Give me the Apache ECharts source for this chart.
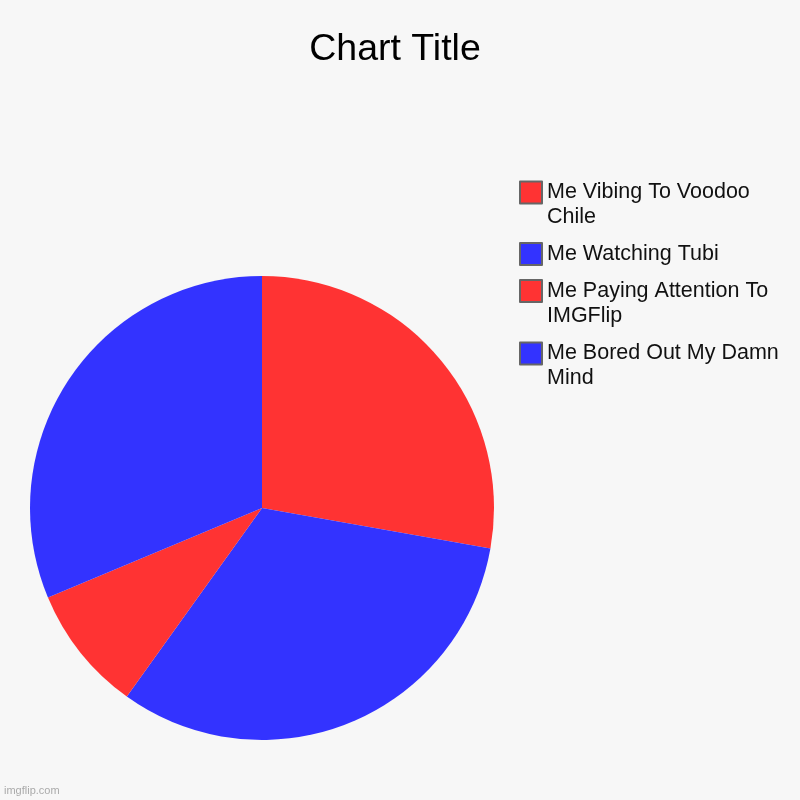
<!DOCTYPE html>
<html>
<head>
<meta charset="utf-8">
<script src="https://cdn.jsdelivr.net/npm/echarts@6/dist/echarts.min.js"></script>
<style>
    html, body { margin: 0; padding: 0; background: #f7f7f7; }
    #chart { width: 800px; height: 800px; }
</style>
</head>
<body>
<div id="chart"></div>
<script>
// 数据
const categories = ['Me Vibing To Voodoo Chile', 'Me Watching Tubi', 'Me Paying Attention To IMGFlip', 'Me Bored Out My Damn Mind'];
const values = [27.8, 32.1, 8.8, 31.3];
const colors = ['#ff3333', '#3333ff', '#ff3333', '#3333ff'];

// 每个图例项单独一个legend，方便把色块对齐到第一行
const legendTops = [155, 241.5, 253.5, 316];
const legendLines = [2, 1, 2, 2];

const legends = categories.map((name, i) => ({
    data: [name],
    orient: 'vertical',
    left: 519,
    top: legendTops[i],
    padding: 0,
    itemWidth: 22,
    itemHeight: 22,
    itemGap: 0,
    itemTextGap: 11,
    icon: 'rect',
    selectedMode: false,
    itemStyle: { borderColor: '#666666', borderWidth: 2 },
    // 两行的项前面加一个空行，图标就和第一行居中
    formatter: n => (legendLines[i] > 1 ? '\n' : '') + n,
    textStyle: {
        fontFamily: 'Liberation Sans, Arial, sans-serif',
        fontSize: 21.5,
        lineHeight: 25,
        color: '#111111',
        width: 245,
        overflow: 'break'
    }
}));

const chart = echarts.init(document.getElementById('chart'));
chart.setOption({
    backgroundColor: '#f7f7f7',
    animation: false,
    title: {
        text: 'Chart Title',
        left: 395,
        top: 31,
        padding: 0,
        textAlign: 'center',
        textStyle: {
            fontFamily: 'Liberation Sans, Arial, sans-serif',
            fontSize: 37.5,
            fontWeight: 'normal',
            color: '#000000'
        }
    },
    legend: legends,
    graphic: [{
        type: 'text',
        left: 4,
        top: 785,
        style: {
            text: 'imgflip.com',
            fontFamily: 'Liberation Sans, Arial, sans-serif',
            fontSize: 11,
            fill: '#aaaaaa'
        }
    }],
    series: [{
        type: 'pie',
        center: [262, 508],
        radius: 232,
        startAngle: 90,
        clockwise: true,
        label: { show: false },
        labelLine: { show: false },
        emphasis: { disabled: true },
        itemStyle: { borderWidth: 0 },
        data: categories.map((name, i) => ({
            name: name,
            value: values[i],
            itemStyle: { color: colors[i] }
        }))
    }]
});
</script>
</body>
</html>
